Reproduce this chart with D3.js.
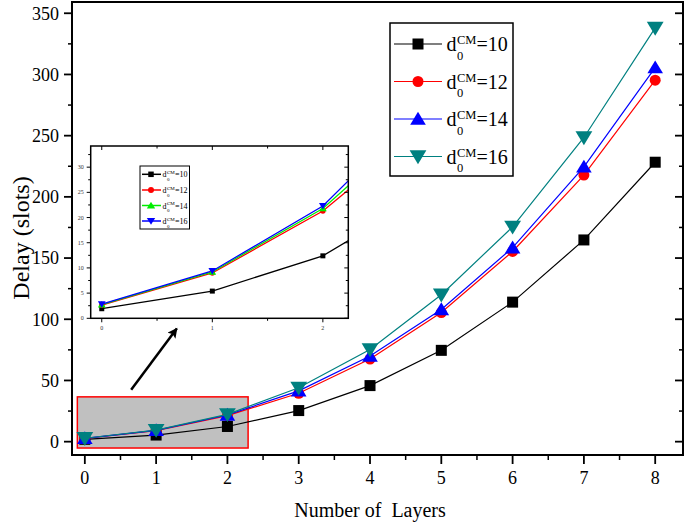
<!DOCTYPE html>
<html><head><meta charset="utf-8">
<script src="https://cdn.jsdelivr.net/npm/d3@7"></script>
<style>
html,body{margin:0;padding:0;background:#fff;}
svg{display:block;font-family:"Liberation Serif","Times New Roman",serif;}
</style></head>
<body><svg id="c" width="685" height="522"></svg>
<script>
const layers = [0,1,2,3,4,5,6,7,8];
const d10 = [1.9, 5.4, 12.4, 25.4, 45.8, 74.6, 114, 164.8, 228.3];
const d12 = [2.6, 9.0, 21.3, 39.5, 67.5, 105.5, 155.4, 217.8, 295.3];
const d14 = [2.7, 9.2, 21.8, 41.5, 70.0, 108.0, 158.5, 224.5, 305.6];
const d16 = [2.8, 9.4, 22.3, 44.0, 75.3, 120.0, 175.5, 248.5, 338.0];
const seriesLabels = ["10","12","14","16"];
const yTicks = [0,50,100,150,200,250,300,350];
const xTicks = [0,1,2,3,4,5,6,7,8];
const insetYTicks = [0,5,10,15,20,25,30];
const insetXTicks = [0,1,2];

const svg = d3.select("#c");
const L=72,R=683,T=2,B=455;
const x = d3.scaleLinear().domain([-0.18,8.39]).range([L,R]);
const y = d3.scaleLinear().domain([-10.9,359.2]).range([B,T]);

const allSeries = [d10,d12,d14,d16];
const mainColors = ["#000000","#ff0000","#0000ff","#008080"];
const insetColors = ["#000000","#ff0000","#00ee00","#0000ff"];
const shapes = ["square","circle","up","down"];

function marker(g, shape, cx, cy, s, color){
  if(shape==="square"){
    g.append("rect").attr("x",cx-s/2).attr("y",cy-s/2).attr("width",s).attr("height",s).attr("fill",color);
  } else if(shape==="circle"){
    g.append("circle").attr("cx",cx).attr("cy",cy).attr("r",s/2).attr("fill",color);
  } else if(shape==="up"){
    const w=s*0.6,h=s*0.55;
    g.append("path").attr("d",`M${cx},${cy-h}L${cx+w},${cy+h*0.8}L${cx-w},${cy+h*0.8}Z`).attr("fill",color);
  } else {
    const w=s*0.6,h=s*0.55;
    g.append("path").attr("d",`M${cx},${cy+h}L${cx+w},${cy-h*0.8}L${cx-w},${cy-h*0.8}Z`).attr("fill",color);
  }
}

// red highlight box
svg.append("rect").attr("x",x(-0.105)).attr("y",y(36.6)).attr("width",x(2.29)-x(-0.105)).attr("height",y(-5.2)-y(36.6))
  .attr("fill","#c0c0c0").attr("stroke","#ff0000").attr("stroke-width",1.5);

// main series
const line = d3.line().x((d,i)=>x(layers[i])).y(d=>y(d));
const msize=[11,11,13,14];
allSeries.forEach((s,k)=>{
  const g=svg.append("g");
  g.append("path").attr("d",line(s)).attr("fill","none").attr("stroke",mainColors[k]).attr("stroke-width",1.2);
  s.forEach((v,i)=>marker(g,shapes[k],x(layers[i]),y(v),msize[k],mainColors[k]));
});

// frame
svg.append("rect").attr("x",L).attr("y",T).attr("width",R-L).attr("height",B-T).attr("fill","none").attr("stroke","#000").attr("stroke-width",2);

// y ticks
const ya = svg.append("g");
yTicks.forEach(t=>{
  ya.append("line").attr("x1",L).attr("x2",L-8).attr("y1",y(t)).attr("y2",y(t)).attr("stroke","#000").attr("stroke-width",1.8);
  ya.append("line").attr("x1",R).attr("x2",R-8).attr("y1",y(t)).attr("y2",y(t)).attr("stroke","#000").attr("stroke-width",1.8);
  ya.append("text").attr("x",L-13).attr("y",y(t)).attr("dy","0.35em").attr("text-anchor","end").attr("font-size",18).text(t);
});
yTicks.slice(0,-1).forEach(t=>{
  const m=t+25;
  ya.append("line").attr("x1",L).attr("x2",L-4).attr("y1",y(m)).attr("y2",y(m)).attr("stroke","#000").attr("stroke-width",1.5);
  ya.append("line").attr("x1",R).attr("x2",R-4).attr("y1",y(m)).attr("y2",y(m)).attr("stroke","#000").attr("stroke-width",1.5);
});
// x ticks
xTicks.forEach(t=>{
  ya.append("line").attr("x1",x(t)).attr("x2",x(t)).attr("y1",B).attr("y2",B+9).attr("stroke","#000").attr("stroke-width",1.8);
  ya.append("text").attr("x",x(t)).attr("y",B+29).attr("text-anchor","middle").attr("font-size",18).text(t);
});
xTicks.forEach(t=>{
  const m=t+0.5;
  if(m<8.39) ya.append("line").attr("x1",x(m)).attr("x2",x(m)).attr("y1",B).attr("y2",B+5).attr("stroke","#000").attr("stroke-width",1.5);
});

// axis titles
svg.append("text").attr("x",(x(0)+x(8))/2).attr("y",517).attr("text-anchor","middle").attr("font-size",20)
  .attr("xml:space","preserve").style("white-space","pre").text("Number of  Layers");
svg.append("text").attr("transform","translate(29,238) rotate(-90)").attr("text-anchor","middle").attr("font-size",24).text("Delay (slots)");

// main legend
const lg = svg.append("g");
lg.append("rect").attr("x",390).attr("y",23).attr("width",123).attr("height",153).attr("fill","#fff").attr("stroke","#000").attr("stroke-width",1.5);
const legY=[44,81.5,119,156.5];
seriesLabels.forEach((lab,k)=>{
  const cy=legY[k];
  lg.append("line").attr("x1",394).attr("x2",442).attr("y1",cy).attr("y2",cy).attr("stroke",mainColors[k]).attr("stroke-width",1.2);
  marker(lg,shapes[k],418,cy,[11,11,13,14][k],mainColors[k]);
  lg.append("text").attr("x",446.5).attr("y",cy+7).attr("font-size",20).text("d");
  lg.append("text").attr("x",457).attr("y",cy+15.5).attr("font-size",12.5).text("0");
  lg.append("text").attr("x",457).attr("y",cy).attr("font-size",12.5).text("CM");
  lg.append("text").attr("x",476.5).attr("y",cy+7).attr("font-size",20).text("="+lab);
});

// arrow
const defs=svg.append("defs");
defs.append("marker").attr("id","ah").attr("viewBox","0 0 10 10").attr("refX",9).attr("refY",5)
  .attr("markerWidth",5).attr("markerHeight",4).attr("orient","auto").attr("markerUnits","strokeWidth")
  .append("path").attr("d","M0,0L10,5L0,10L2,5Z").attr("fill","#000");
svg.append("line").attr("x1",x(0.65)).attr("y1",y(42.5)).attr("x2",x(1.29)).attr("y2",y(92.5))
  .attr("stroke","#000").attr("stroke-width",2.5).attr("marker-end","url(#ah)");

// inset
const iL=90.7,iR=348.3,iT=146,iB=318.3;
const ix = d3.scaleLinear().domain([-0.1,2.23]).range([iL,iR]);
const iy = d3.scaleLinear().domain([0,34.2]).range([iB,iT]);
const ins = svg.append("g");
ins.append("rect").attr("x",iL).attr("y",iT).attr("width",iR-iL).attr("height",iB-iT).attr("fill","#fff");
defs.append("clipPath").attr("id","iclip").append("rect").attr("x",iL).attr("y",iT).attr("width",iR-iL).attr("height",iB-iT);
const iline = d3.line().x((d,i)=>ix(layers[i])).y(d=>iy(d));
const ig = ins.append("g").attr("clip-path","url(#iclip)");
allSeries.forEach((s,k)=>{
  ig.append("path").attr("d",iline(s)).attr("fill","none").attr("stroke",insetColors[k]).attr("stroke-width",1.3);
});
allSeries.forEach((s,k)=>{
  s.forEach((v,i)=>{ if(layers[i]<=2) marker(ig,shapes[k],ix(layers[i]),iy(v),[5,5.5,6.5,6.5][k],insetColors[k]); });
});
ins.append("rect").attr("x",iL).attr("y",iT).attr("width",iR-iL).attr("height",iB-iT).attr("fill","none").attr("stroke","#000").attr("stroke-width",1.5);
insetYTicks.forEach(t=>{
  ins.append("line").attr("x1",iL).attr("x2",iL-4).attr("y1",iy(t)).attr("y2",iy(t)).attr("stroke","#000").attr("stroke-width",1);
  ins.append("line").attr("x1",iR).attr("x2",iR-4).attr("y1",iy(t)).attr("y2",iy(t)).attr("stroke","#000").attr("stroke-width",1);
  ins.append("text").attr("x",iL-7).attr("y",iy(t)).attr("dy","0.35em").attr("text-anchor","end").attr("font-size",6).attr("fill","#333").text(t);
});
insetYTicks.forEach(t=>{
  const m=t+2.5;
  if(m<34.2){
    ins.append("line").attr("x1",iL).attr("x2",iL-2.5).attr("y1",iy(m)).attr("y2",iy(m)).attr("stroke","#000").attr("stroke-width",1);
    ins.append("line").attr("x1",iR).attr("x2",iR-2.5).attr("y1",iy(m)).attr("y2",iy(m)).attr("stroke","#000").attr("stroke-width",1);
  }
});
insetXTicks.forEach(t=>{
  ins.append("line").attr("x1",ix(t)).attr("x2",ix(t)).attr("y1",iB).attr("y2",iB+4).attr("stroke","#000").attr("stroke-width",1);
  ins.append("line").attr("x1",ix(t)).attr("x2",ix(t)).attr("y1",iT).attr("y2",iT+4).attr("stroke","#000").attr("stroke-width",1);
  ins.append("text").attr("x",ix(t)).attr("y",iB+12).attr("text-anchor","middle").attr("font-size",6).attr("fill","#333").text(t);
  const m=t+0.5;
  if(m<2.23){
    ins.append("line").attr("x1",ix(m)).attr("x2",ix(m)).attr("y1",iB).attr("y2",iB+2.5).attr("stroke","#000").attr("stroke-width",1);
    ins.append("line").attr("x1",ix(m)).attr("x2",ix(m)).attr("y1",iT).attr("y2",iT+2.5).attr("stroke","#000").attr("stroke-width",1);
  }
});
// inset legend
ins.append("rect").attr("x",140).attr("y",166).attr("width",49.5).attr("height",63).attr("fill","#fff").attr("stroke","#000").attr("stroke-width",1);
const ilegY=[174.3,190,205.5,221];
seriesLabels.forEach((lab,k)=>{
  const cy=ilegY[k];
  ins.append("line").attr("x1",142).attr("x2",161).attr("y1",cy).attr("y2",cy).attr("stroke",insetColors[k]).attr("stroke-width",1.5);
  marker(ins,shapes[k],151,cy,[5.5,6,7,7][k],insetColors[k]);
  ins.append("text").attr("x",162.5).attr("y",cy+3).attr("font-size",8).text("d");
  ins.append("text").attr("x",167).attr("y",cy+6.5).attr("font-size",5).text("0");
  ins.append("text").attr("x",167).attr("y",cy-0.5).attr("font-size",5).text("CM");
  ins.append("text").attr("x",175).attr("y",cy+3).attr("font-size",8).text("="+lab);
});
</script></body></html>
